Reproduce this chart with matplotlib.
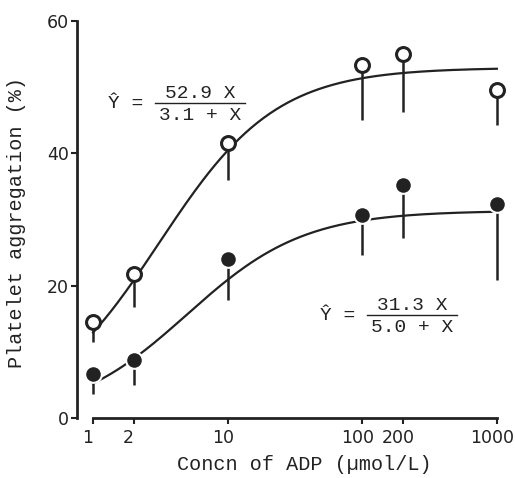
import numpy as np
import matplotlib.pyplot as plt
import matplotlib.transforms as mtrans
from matplotlib.ticker import FixedLocator, NullLocator

# datos
conc = [1, 2, 10, 100, 200, 1000]
open_mean = [14.5, 21.8, 41.5, 53.3, 55.0, 49.5]
open_low = [11.5, 16.7, 35.9, 45.0, 46.2, 44.2]
fill_mean = [6.6, 8.8, 24.0, 30.6, 35.2, 32.3]
fill_low = [3.7, 5.0, 17.8, 24.6, 27.2, 20.8]

# parametros de las ecuaciones mostradas
vmax1, km1 = 52.9, 3.1
vmax2, km2 = 31.3, 5.0

xticks = [1, 2, 10, 100, 200, 1000]
xtick_labels = ["1", "2", "10", "100", "200", "1000"]
yticks = [0, 20, 40, 60]

mono = "Liberation Mono"

fig = plt.figure(figsize=(5.15, 4.78), dpi=100)
ax = fig.add_axes([0.1495, 0.1255, 0.845, 0.859])

x = np.logspace(0, 3, 200)
ax.plot(x, vmax1 * x / (km1 + x), color="#222", lw=1.6, zorder=1)
ax.plot(x, vmax2 * x / (km2 + x), color="#222", lw=1.6, zorder=1)

ax.vlines(conc, open_low, open_mean, color="#222", lw=1.8, zorder=2)
ax.vlines(conc, fill_low, fill_mean, color="#222", lw=1.8, zorder=2)
ax.plot(conc, open_mean, "o", ms=10, mfc="white", mec="#222", mew=2.2, zorder=3)
ax.plot(conc, fill_mean, "o", ms=12, mfc="#222", mec="white", mew=1.5, zorder=3)

ax.set_xscale("log")
ax.set_xlim(0.76, 1300)
ax.set_ylim(0, 62)
ax.xaxis.set_major_locator(FixedLocator(xticks))
ax.xaxis.set_minor_locator(NullLocator())
ax.set_xticklabels(xtick_labels)
ax.set_yticks(yticks)
ax.tick_params(labelsize=12.5, length=4, width=1.5, color="#222", labelcolor="#222")
ax.tick_params(axis="x", pad=4)
ax.tick_params(axis="y", pad=2)

# etiquetas del eje x un poco corridas a la izquierda, como en el original
desplaza = mtrans.ScaledTranslation(-5 / 100, 0, fig.dpi_scale_trans)
for lab in ax.get_xticklabels():
    lab.set_transform(lab.get_transform() + desplaza)

for s in ["top", "right"]:
    ax.spines[s].set_visible(False)
for s in ["left", "bottom"]:
    ax.spines[s].set_linewidth(2)
    ax.spines[s].set_color("#222")
ax.spines["bottom"].set_bounds(1, 1000)
ax.spines["left"].set_bounds(0, 60)

ax.set_ylabel("Platelet aggregation (%)", fontsize=14.5, family=mono, color="#222")
ax.yaxis.set_label_coords(-0.118, 0.475)
ax.set_xlabel("Concn of ADP (\u00b5mol/L)", fontsize=14.5, family=mono, color="#222")
ax.xaxis.set_label_coords(0.522, -0.09)

def ecuacion(xp, yp, num, den, ancho):
    # xp, yp en pixeles de la figura (desde arriba)
    fx = xp / 515
    fy = 1 - yp / 478
    fig.text(fx, fy, "\u0176 =", family=mono, fontsize=14, color="#222", va="center")
    x0 = fx + 47 / 515
    fig.text(x0 + ancho / 2, fy + 10 / 478, num, family=mono, fontsize=14, color="#222",
             ha="center", va="center")
    fig.text(x0 + ancho / 2, fy - 12 / 478, den, family=mono, fontsize=14, color="#222",
             ha="center", va="center")
    fig.add_artist(plt.Line2D([x0, x0 + ancho], [fy, fy], color="#222", lw=1))

ecuacion(108, 103, "52.9 X", "3.1 + X", 90 / 515)
ecuacion(320, 315, "31.3 X", "5.0 + X", 90 / 515)

fig.savefig("out.png", dpi=100)
